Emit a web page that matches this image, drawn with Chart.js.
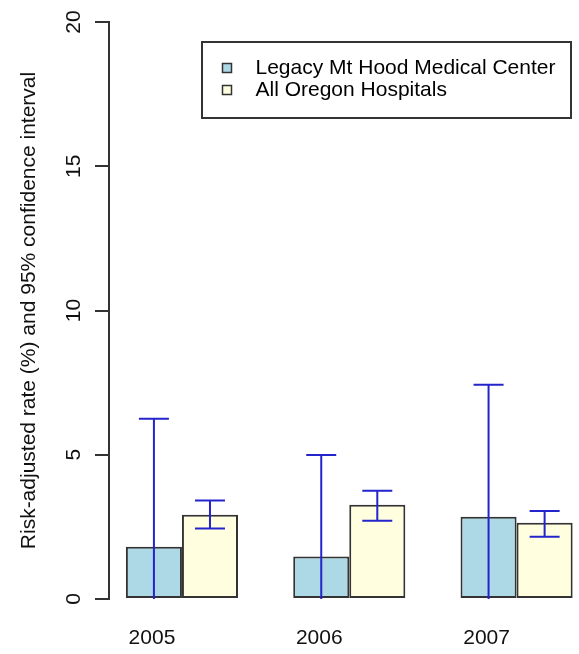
<!DOCTYPE html>
<html><head><meta charset="utf-8">
<script src="https://cdn.jsdelivr.net/npm/chart.js@4.4.1/dist/chart.umd.min.js"></script>
<style>html,body{margin:0;padding:0;background:#fff;} canvas{display:block;}</style>
</head><body>
<canvas id="c" width="579" height="654"></canvas>
<script>
const years = ['2005', '2006', '2007'];
const seriesNames = ['Legacy Mt Hood Medical Center', 'All Oregon Hospitals'];
const legacyRate  = [1.81, 1.47, 2.85];
const legacyLower = [0, 0, 0];
const legacyUpper = [6.25, 4.99, 7.43];
const oregonRate  = [2.92, 3.27, 2.64];
const oregonLower = [2.44, 2.71, 2.16];
const oregonUpper = [3.41, 3.75, 3.05];
const yTicks = [0, 5, 10, 15, 20];
const yTitle = 'Risk-adjusted rate (%) and 95% confidence interval';

const FONT = '"Liberation Sans", Arial, Helvetica, sans-serif';
Chart.defaults.font.family = FONT;
Chart.defaults.color = '#222';

const fills = ['#ADD8E6', '#FFFFE0'];
const edge = '#333333';

function swatch(fill) {
  const c = document.createElement('canvas');
  c.width = 24; c.height = 12;
  const g = c.getContext('2d');
  g.fillStyle = fill; g.fillRect(1.5, 1.5, 9, 9);
  g.strokeStyle = edge; g.lineWidth = 1.5; g.strokeRect(1.5, 1.5, 9, 9);
  return c;
}
const swatches = fills.map(swatch);

const errorBars = {
  id: 'errorBars',
  afterDatasetsDraw(chart) {
    const ctx = chart.ctx, y = chart.scales.y;
    const bounds = [[legacyLower, legacyUpper], [oregonLower, oregonUpper]];
    ctx.save();
    ctx.strokeStyle = '#2424cc';
    ctx.lineWidth = 2;
    bounds.forEach(([lo, hi], d) => {
      chart.getDatasetMeta(d).data.forEach((bar, i) => {
        const x = bar.x, yl = y.getPixelForValue(lo[i]), yh = y.getPixelForValue(hi[i]);
        ctx.beginPath();
        ctx.moveTo(x, yl); ctx.lineTo(x, yh);
        ctx.moveTo(x - 15, yh); ctx.lineTo(x + 15, yh);
        if (lo[i] > 0) { ctx.moveTo(x - 15, yl); ctx.lineTo(x + 15, yl); }
        ctx.stroke();
      });
    });
    ctx.restore();
  }
};

const legendPlace = {
  id: 'legendPlace',
  afterLayout(chart) {
    const lg = chart.legend;
    if (!lg) return;
    lg.left = 220; lg.right = 579; lg.top = 56.5; lg.bottom = 400;
  },
  afterDraw(chart) {
    const ctx = chart.ctx;
    ctx.save();
    ctx.strokeStyle = edge; ctx.lineWidth = 2;
    ctx.strokeRect(202, 42, 369, 76);
    ctx.restore();
  }
};

new Chart(document.getElementById('c'), {
  type: 'bar',
  data: {
    datasets: [
      { label: seriesNames[0], data: years.map((_, i) => ({ x: i, y: legacyRate[i] })),
        backgroundColor: fills[0], borderColor: edge, borderWidth: 2, borderSkipped: false },
      { label: seriesNames[1], data: years.map((_, i) => ({ x: i, y: oregonRate[i] })),
        backgroundColor: fills[1], borderColor: edge, borderWidth: 2, borderSkipped: false }
    ]
  },
  options: {
    responsive: false,
    animation: false,
    devicePixelRatio: 1,
    layout: { padding: { top: 22, right: 0, bottom: 0, left: 0 } },
    datasets: { bar: { categoryPercentage: 0.67, barPercentage: 1.0 } },
    plugins: {
      tooltip: { enabled: false },
      legend: {
        position: 'chartArea',
        align: 'start',
        labels: {
          usePointStyle: true,
          pointStyleWidth: 24,
          padding: 1,
          color: '#111',
          font: { size: 21, family: FONT },
          generateLabels(chart) {
            return chart.data.datasets.map((ds, i) => ({
              text: ds.label, fillStyle: fills[i], strokeStyle: edge, lineWidth: 1.5,
              pointStyle: swatches[i], hidden: false, datasetIndex: i
            }));
          }
        }
      }
    },
    scales: {
      x: {
        type: 'linear',
        offset: false,
        min: -0.436, max: 2.373,
        afterBuildTicks(s) { s.ticks = years.map((_, i) => ({ value: i })); },
        afterFit(s) { s.height = 55; },
        grid: { display: false, drawTicks: false, offset: false },
        border: { display: false },
        ticks: {
          callback: (v) => years[v],
          labelOffset: -30,
          padding: 27,
          maxRotation: 0, minRotation: 0,
          color: '#111',
          font: { size: 21, family: FONT }
        }
      },
      y: {
        min: 0, max: 20,
        afterBuildTicks(s) { s.ticks = yTicks.map(v => ({ value: v })); },
        afterFit(s) { s.width = 109; },
        grid: { drawOnChartArea: false, drawTicks: true, tickLength: 14, color: edge, lineWidth: 2 },
        border: { display: true, color: edge, width: 2 },
        ticks: {
          minRotation: 90, maxRotation: 90,
          crossAlign: 'center',
          padding: 9,
          color: '#111',
          font: { size: 21, family: FONT }
        },
        title: {
          display: true, text: yTitle, color: '#111',
          font: { size: 21, family: FONT },
          padding: { top: 17, bottom: 0 }
        }
      }
    }
  },
  plugins: [errorBars, legendPlace]
});
</script>
</body></html>
